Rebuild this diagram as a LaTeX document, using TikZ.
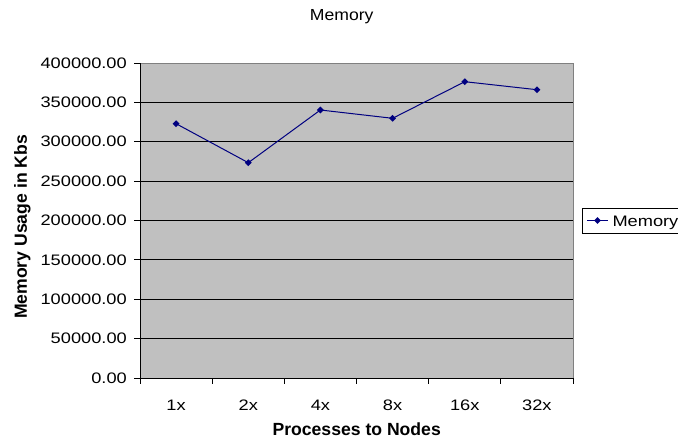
\documentclass[tikz,border=0pt]{standalone}
\usepackage{fontspec}
\setmainfont{Liberation Sans}
\usetikzlibrary{shapes.geometric}
\definecolor{plotgray}{HTML}{C0C0C0}
\definecolor{series}{HTML}{000080}
\definecolor{frame}{HTML}{808080}
\newcommand{\widetick}[1]{\scalebox{1.2}[1]{#1}}
\tikzset{
  ticklabel/.style={font=\fontsize{15.2}{18}\selectfont, inner sep=0pt},
  charttitle/.style={font=\fontsize{16}{19}\selectfont, inner sep=0pt},
  axistitle/.style={font=\fontsize{17.6}{20}\selectfont\bfseries, inner sep=0pt},
  datapt/.style={diamond, fill=series, inner sep=0pt, minimum size=7pt},
  seriesline/.style={draw=series, line width=1pt},
  gridline/.style={draw=black, line width=0.9pt},
  axisline/.style={draw=black, line width=1pt},
}
\begin{document}
\begin{tikzpicture}[x=1pt,y=-1pt]
\useasboundingbox (0,0) rectangle (678,447);

% plot area
\fill[plotgray] (140,63) rectangle (573,378);
\foreach \y in {102.375,141.75,181.125,220.5,259.875,299.25,338.625}
  \draw[gridline] (140,\y) -- (573,\y);
\draw[frame, line width=1pt] (140,63) -- (573,63) -- (573,378);
\draw[axisline] (140,63) -- (140,378) -- (573,378);

% value axis
\foreach \lab [count=\i from 0] in {0.00,50000.00,100000.00,150000.00,200000.00,250000.00,300000.00,350000.00,400000.00}{
  \pgfmathsetmacro\yy{378-39.375*\i}
  \draw[axisline] (134,\yy) -- (140,\yy);
  \node[ticklabel, anchor=east] (ylab\i) at (127,\yy) {\widetick{\lab}};
}

% category axis
\foreach \k in {0,...,6}{
  \pgfmathsetmacro\xx{140+72.1667*\k}
  \draw[axisline] (\xx,378) -- (\xx,384);
}
\foreach \lab [count=\i from 0] in {1x,2x,4x,8x,16x,32x}{
  \pgfmathsetmacro\xx{176.08+72.1667*\i}
  \node[ticklabel, anchor=base] (xlab\i) at (\xx,410.7) {\widetick{\lab}};
}

% series
\coordinate (c1) at (176.1,123.7);
\coordinate (c2) at (248.3,162.7);
\coordinate (c3) at (320.4,110.0);
\coordinate (c4) at (392.6,118.3);
\coordinate (c5) at (464.8,81.7);
\coordinate (c6) at (537.0,89.7);
\draw[seriesline] (c1) -- (c2) -- (c3) -- (c4) -- (c5) -- (c6);
\foreach \n in {1,...,6}
  \node[datapt] (p\n) at (c\n) {};

% titles
\node[charttitle, anchor=base] (title) at (341.7,20.7) {\scalebox{1.1}[1]{Memory}};
\node[axistitle, anchor=base] (xtitle) at (356.7,435) {Processes to Nodes};
\node[axistitle, anchor=base, rotate=90] (ytitle) at (27,227) {Memory Usage in Kbs};

% legend
\draw[black, line width=0.8pt] (582,208) rectangle (681,233);
\coordinate (l1) at (587,220.5);
\coordinate (l2) at (608,220.5);
\draw[seriesline] (l1) -- (l2);
\node[datapt] (lmark) at (597.5,220.5) {};
\node[ticklabel, anchor=base west] (ltext) at (612.3,226.7) {\widetick{Memory}};
\end{tikzpicture}
\end{document}
